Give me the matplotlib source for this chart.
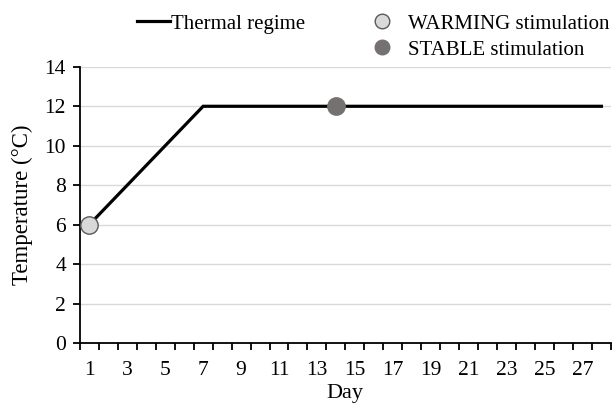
import numpy as np
import matplotlib.pyplot as plt
from matplotlib.lines import Line2D

days = [1, 7, 28]
temps = [6, 12, 12]
warming_day, warming_temp = [1], [6]
stable_day, stable_temp = [14], [12]
xtick_days = list(range(1, 28, 2))
yticks = list(range(0, 15, 2))

plt.rcParams['font.family'] = ['Liberation Serif', 'DejaVu Serif']
plt.rcParams['font.size'] = 15.5

fig = plt.figure(figsize=(6.14, 4.05), dpi=100)
ax = fig.add_axes([0.130, 0.153, 0.865, 0.682])

ax.plot(days, temps, color='black', lw=2.3, solid_joinstyle='miter', zorder=3)
ax.plot(warming_day, warming_temp, 'o', ms=12.5, mfc='#d9d9d9', mec='#595959', mew=1, zorder=4, clip_on=False)
ax.plot(stable_day, stable_temp, 'o', ms=12.5, mfc='#767171', mec='#767171', mew=1, zorder=4)

ax.set_xlim(0.5, 28.5)
ax.set_ylim(0, 14)
ax.set_yticks(yticks)
ax.set_xticks(xtick_days)
ax.set_xticks(np.arange(0.5, 29, 1), minor=True)
ax.tick_params(axis='x', which='major', length=0, pad=13)
ax.tick_params(axis='x', which='minor', length=5, width=1.3, direction='out')
ax.tick_params(axis='y', length=5, width=1.3, direction='out', pad=5)
ax.grid(axis='y', color='#d9d9d9', lw=1)
ax.set_axisbelow(True)
for s in ['top', 'right']:
    ax.spines[s].set_visible(False)
for s in ['left', 'bottom']:
    ax.spines[s].set_linewidth(1.3)

ax.set_xlabel('Day', fontsize=16, labelpad=3)
ax.set_ylabel('Temperature (°C)', fontsize=16.5, labelpad=8)

# legend: line on the left, the two markers stacked on the right
fig.legend([Line2D([], [], color='black', lw=2.3)], ['Thermal regime'],
           loc='upper left', bbox_to_anchor=(0.2231, 0.965), fontsize=15,
           frameon=False, borderpad=0, borderaxespad=0,
           handlelength=1.59, handletextpad=0.05)
marker_handles = [
    Line2D([], [], marker='o', ls='none', ms=10.5, mfc='#d9d9d9', mec='#595959'),
    Line2D([], [], marker='o', ls='none', ms=10.5, mfc='#767171', mec='#767171'),
]
fig.legend(marker_handles, ['WARMING stimulation', 'STABLE stimulation'],
           loc='upper left', bbox_to_anchor=(0.6052, 0.965), fontsize=15,
           frameon=False, borderpad=0, borderaxespad=0,
           handlelength=1.0, handletextpad=0.75, labelspacing=0.3)

fig.savefig('out.png', dpi=100)
